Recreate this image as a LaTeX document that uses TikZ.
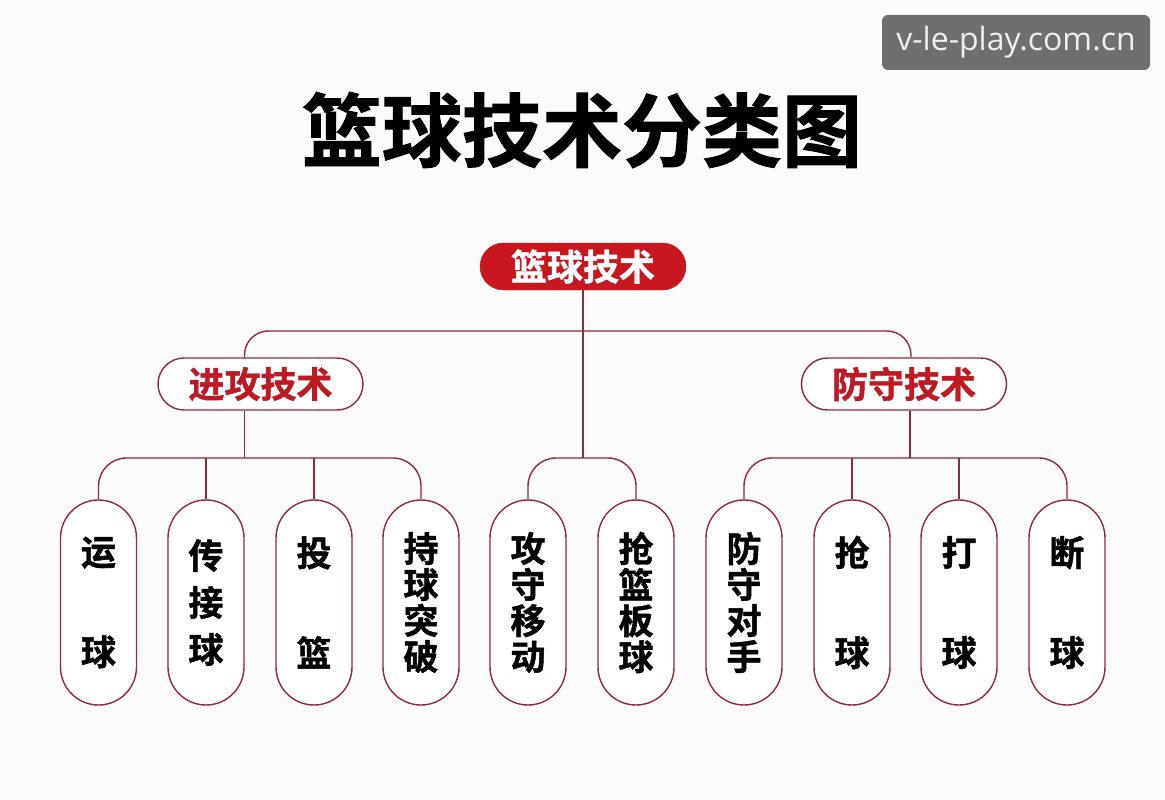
\documentclass[tikz,border=0pt]{standalone}
\usepackage{fontspec}
\newfontfamily\cjk{Noto Sans CJK SC Bold}[FakeBold=1.2]
\newfontfamily\wmfont{Open Sans}
\usetikzlibrary{calc}
\definecolor{bgc}{HTML}{FBFBFB}
\definecolor{linec}{HTML}{8E2A3A}
\definecolor{redfill}{HTML}{C8171F}
\definecolor{redtext}{HTML}{BE1A24}
\definecolor{wmgray}{HTML}{6F6F6D}
\definecolor{wmtext}{HTML}{EFEFEF}
\tikzset{
  conn/.style={draw=linec, line width=1.4pt},
  rootbox/.style={fill=redfill, draw=redfill, rounded corners=23.5pt, minimum width=206pt, minimum height=47pt,
    inner sep=0pt, text=white, font=\cjk\fontsize{36}{36}\selectfont},
  midbox/.style={fill=white, draw=linec, line width=1.4pt, rounded corners=26pt, minimum width=205pt, minimum height=52pt,
    inner sep=0pt, text=redtext, font=\cjk\fontsize{36}{36}\selectfont},
  pill/.style={fill=white, draw=linec, line width=1.4pt, rounded corners=38pt, minimum width=76pt, minimum height=205pt,
    inner sep=0pt, align=center, text=black},
  four/.style={font=\cjk\fontsize{35}{36}\selectfont},
  three/.style={font=\cjk\fontsize{35}{47}\selectfont},
  two/.style={font=\cjk\fontsize{35}{100}\selectfont},
}
\begin{document}
\begin{tikzpicture}[x=1pt,y=-1pt]
\useasboundingbox[fill=bgc] (0,0) rectangle (1165,800);
% watermark
\node[fill=wmgray, rounded corners=6pt, minimum width=268pt, minimum height=55pt, inner sep=0pt,
  text=wmtext, font=\wmfont\fontsize{32}{32}\selectfont] (wm) at (1016,42.5) {v-le-play.com.cn};
% title
\node[font=\cjk\fontsize{80}{80}\selectfont, inner sep=0pt] (title) at (582,130) {篮球技术分类图};
% nodes
\node[rootbox] (root) at (583,266.5) {篮球技术};
\node[midbox] (atk) at (260.5,384) {进攻技术};
\node[midbox] (def) at (904,384) {防守技术};
\node[pill,two] (p1) at (98.5,602.5) {运\\球};
\node[pill,three] (p2) at (206,602.5) {传\\接\\球};
\node[pill,two] (p3) at (314,602.5) {投\\篮};
\node[pill,four] (p4) at (421,602.5) {持\\球\\突\\破};
\node[pill,four] (p5) at (528,602.5) {攻\\守\\移\\动};
\node[pill,four] (p6) at (636,602.5) {抢\\篮\\板\\球};
\node[pill,four] (p7) at (744,602.5) {防\\守\\对\\手};
\node[pill,two] (p8) at (852,602.5) {抢\\球};
\node[pill,two] (p9) at (959,602.5) {打\\球};
\node[pill,two] (p10) at (1067,602.5) {断\\球};
% connectors: top level
\coordinate (atkin) at ($(atk.north)+(-16,0)$);
\coordinate (defin) at ($(def.north)+(7,0)$);
\draw[conn, rounded corners=24pt] (atkin) |- (root.south |- 0,331) -| (defin);
\draw[conn] (root.south) -- (root.south |- 0,458);
% left group
\coordinate (atkout) at ($(atk.south)+(-16,0)$);
\draw[conn] (atkout) -- (atkout |- 0,458);
\draw[conn, rounded corners=28pt] (p1.north) |- (atkout |- 0,458) -| (p4.north);
\draw[conn] (p2.north) -- (p2.north |- 0,458);
\draw[conn] (p3.north) -- (p3.north |- 0,458);
% center group
\draw[conn, rounded corners=28pt] (p5.north) |- (root.south |- 0,458) -| (p6.north);
% right group
\coordinate (defout) at ($(def.south)+(6,0)$);
\draw[conn] (defout) -- (defout |- 0,458);
\draw[conn, rounded corners=28pt] (p7.north) |- (defout |- 0,458) -| (p10.north);
\draw[conn] (p8.north) -- (p8.north |- 0,458);
\draw[conn] (p9.north) -- (p9.north |- 0,458);
\end{tikzpicture}
\end{document}
